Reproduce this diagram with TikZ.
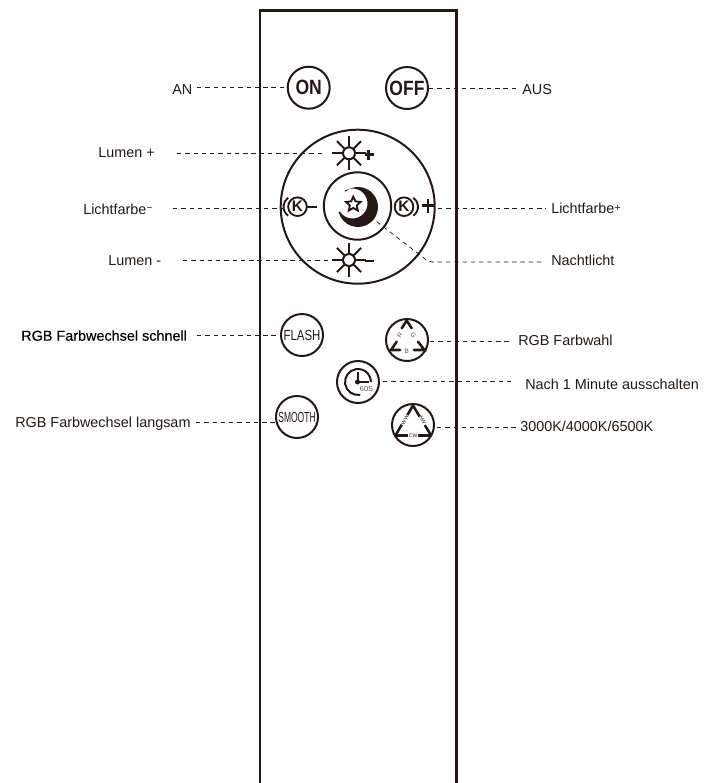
\documentclass[tikz,border=0pt]{standalone}
\usepackage{fontspec}
\usetikzlibrary{shapes.geometric}
\setmainfont{Liberation Sans}
\newfontfamily\condfont[FakeStretch=0.85]{Liberation Sans}
\newfontfamily\flashfont[FakeStretch=0.78]{Liberation Sans}
\newfontfamily\smoothfont[FakeStretch=0.58]{Liberation Sans}
\newfontfamily\heavyfont[FakeBold=0.3]{Liberation Sans}
\definecolor{ink}{HTML}{231815}
\tikzset{
  x=0.75pt,y=-0.75pt,
  lab/.style={font=\fontsize{10.8}{12}\selectfont,text=ink,inner sep=0pt,anchor=base west},
  btn/.style={circle,draw=ink,line width=1.5pt,minimum size=31.5pt,inner sep=0pt,text=ink},
  kbtn/.style={circle,draw=ink,line width=1.4pt,minimum size=14pt,inner sep=0pt,text=ink,font=\fontsize{11.5}{12}\selectfont\bfseries},
  lead/.style={draw=ink,line width=0.55pt,dash pattern=on 3.3pt off 2.9pt},
  wall/.style={draw=ink,line width=1.8pt},
  glyph/.style={draw=ink,line width=1.5pt},
  plusminus/.style={draw=ink,line width=1.9pt},
  icon/.style={draw=ink,line width=1.9pt,line cap=round},
  tiny/.style={font=\fontsize{3.8}{4}\selectfont,text=ink,inner sep=0.5pt,fill=white},
  tinyb/.style={font=\fontsize{4.8}{5}\selectfont,text=ink!75,inner sep=0pt},
}
\newcommand{\sunicon}[1]{%
  \foreach \a in {0,45,...,315}{\draw[glyph] (#1)++(\a:6.6)--++(\a:10.5);}
  \draw[glyph] (#1) circle[radius=6];
}
\begin{document}
\begin{tikzpicture}
\useasboundingbox (0,0) rectangle (719,783);
% body
\draw[wall] (260,783) -- (260,10.5) -- (456.3,10.5) -- (456.3,783);
% round buttons
\node[btn] (on) at (308.7,87.7) {\fontsize{15.5}{16}\selectfont\bfseries\condfont ON};
\node[btn] (off) at (407,88) {\fontsize{15.5}{16}\selectfont\bfseries\condfont OFF};
\node[btn,minimum size=115.5pt] (pad) at (357.7,206.7) {};
\node[btn,minimum size=50.5pt] (moon) at (357.5,206) {};
\node[btn] (flash) at (302,335) {\fontsize{11}{12}\selectfont\flashfont FLASH};
\node[btn] (rgb) at (407,340) {};
\node[btn] (clock) at (358,382) {};
\node[btn] (smooth) at (297,417) {\fontsize{11}{12}\selectfont\smoothfont SMOOTH};
\node[btn] (cct) at (413,425) {};
% pad icons
\coordinate (sunup) at (349,153.3);
\coordinate (sundown) at (349,260);
\sunicon{sunup}
\sunicon{sundown}
\draw[plusminus] (365,154.3) -- (373.5,154.3) (368.5,149.5) -- (368.5,160);
\draw[plusminus] (365,261) -- (373.5,261);
\node[kbtn] (kminus) at (297.5,206.7) {K};
\draw[ink,line width=1.4pt] (294.5,206.7)++(125:11) arc[start angle=125,end angle=235,radius=11];
\draw[plusminus] (307,207) -- (317,207);
\node[kbtn] (kplus) at (404,206.7) {K};
\draw[ink,line width=1.4pt] (407,206.7)++(55:11) arc[start angle=55,end angle=-55,radius=11];
\draw[plusminus] (421.5,205.5) -- (435,205.5) (428,199) -- (428,213);
% moon
\fill[ink] (345.14,191.68) arc[start angle=-130,end angle=165,radius=20]
  -- (339.8,211.45) arc[start angle=148,end angle=-122,radius=15] -- cycle;
\node[star,star points=5,star point ratio=2.1,draw=ink,line width=1.4pt,minimum size=11.5pt,inner sep=0pt] (moonstar) at (353.3,204.3) {};
% RGB icon
\draw[icon] (401.7,328.3) -- (406.7,320.5) -- (411.7,328.3);
\draw[icon] (396.7,341.7) -- (391,350) -- (400,350);
\draw[icon] (418,341.7) -- (424.5,350) -- (414,350);
\node[tinyb,rotate=55] (rlab) at (400,335) {R};
\node[tinyb,rotate=-55] (glab) at (413.3,335) {G};
\node[tinyb] (blab) at (406.7,351) {B};
% clock icon
\draw[ink,line width=1.5pt] (358,382)++(80:13) arc[start angle=80,end angle=360,radius=13];
\draw[ink,line width=1.5pt] (357.5,372) -- (357.5,382) -- (369,382);
\fill[ink] (357.5,382) circle[radius=2.5];
\node[tinyb,font=\fontsize{5.5}{6}\selectfont] (sixty) at (366.5,389) {60S};
% CCT icon
\draw[icon] (396,434.5) -- (413,405.5) -- (430.5,434.5) (396,435.5) -- (430.5,435.5);
\node[tiny,rotate=60] (ww) at (405,420) {WW};
\node[tiny,rotate=-60] (nw) at (422.7,420.5) {NW};
\node[tiny] (cw) at (413.3,435.7) {CW};
% labels
\node[lab] (lan) at (172,94) {AN};
\node[lab] (laus) at (522,94) {AUS};
\node[lab] (llplus) at (98,157.3) {Lumen +};
\node[lab] (lkminus) at (83,214) {Lichtfarbe\raisebox{2pt}{\fontsize{7.5}{8}\selectfont−}};
\node[lab] (lkplus) at (551,213.3) {Lichtfarbe\raisebox{1pt}{\fontsize{8}{8}\selectfont+}};
\node[lab] (llminus) at (108,265) {Lumen -};
\node[lab] (lnacht) at (551,265) {Nachtlicht};
\node[lab,text=black,font=\fontsize{10.8}{12}\selectfont\heavyfont] (lfast) at (21,340.7) {RGB Farbwechsel schnell};
\node[lab] (lwahl) at (518,345.7) {RGB Farbwahl};
\node[lab] (lmin) at (525,389) {Nach 1 Minute ausschalten};
\node[lab] (lslow) at (15,427.3) {RGB Farbwechsel langsam};
\node[lab] (lcct) at (520,431) {3000K/4000K/6500K};
% leader free ends
\coordinate (e1) at (197,87.7);
\coordinate (e2) at (516,88);
\coordinate (e3) at (177,153.3);
\coordinate (e3b) at (324,153.3);
\coordinate (e4) at (173,208.7);
\coordinate (e4b) at (283,208.7);
\coordinate (e5) at (438,208);
\coordinate (e5b) at (546,208);
\coordinate (e6) at (183,260);
\coordinate (e6b) at (333,260);
\coordinate (e7) at (376.7,221.7);
\coordinate (e7b) at (429,262);
\coordinate (e7c) at (545,262);
\coordinate (e8) at (197,335);
\coordinate (e9) at (509,341);
\coordinate (e9b) at (430,341);
\coordinate (e10) at (512,381);
\coordinate (e10b) at (383,381);
\coordinate (e11) at (196,422);
\coordinate (e11b) at (275.5,422);
\coordinate (e12a) at (437,427);
\coordinate (e12b) at (518,427);
% leaders
\draw[lead] (e1) -- (on.west);
\draw[lead] (off.east) -- (e2);
\draw[lead] (e3) -- (e3b);
\draw[lead] (e4) -- (e4b);
\draw[lead] (e5) -- (e5b);
\draw[lead] (e6) -- (e6b);
\draw[lead,rounded corners=3pt] (e7) -- (e7b) -- (e7c);
\draw[lead] (e8) -- (flash.west);
\draw[lead] (e9b) -- (e9);
\draw[lead] (e10b) -- (e10);
\draw[lead] (e11) -- (e11b);
\draw[lead] (e12a) -- (e12b);
\end{tikzpicture}
\end{document}
